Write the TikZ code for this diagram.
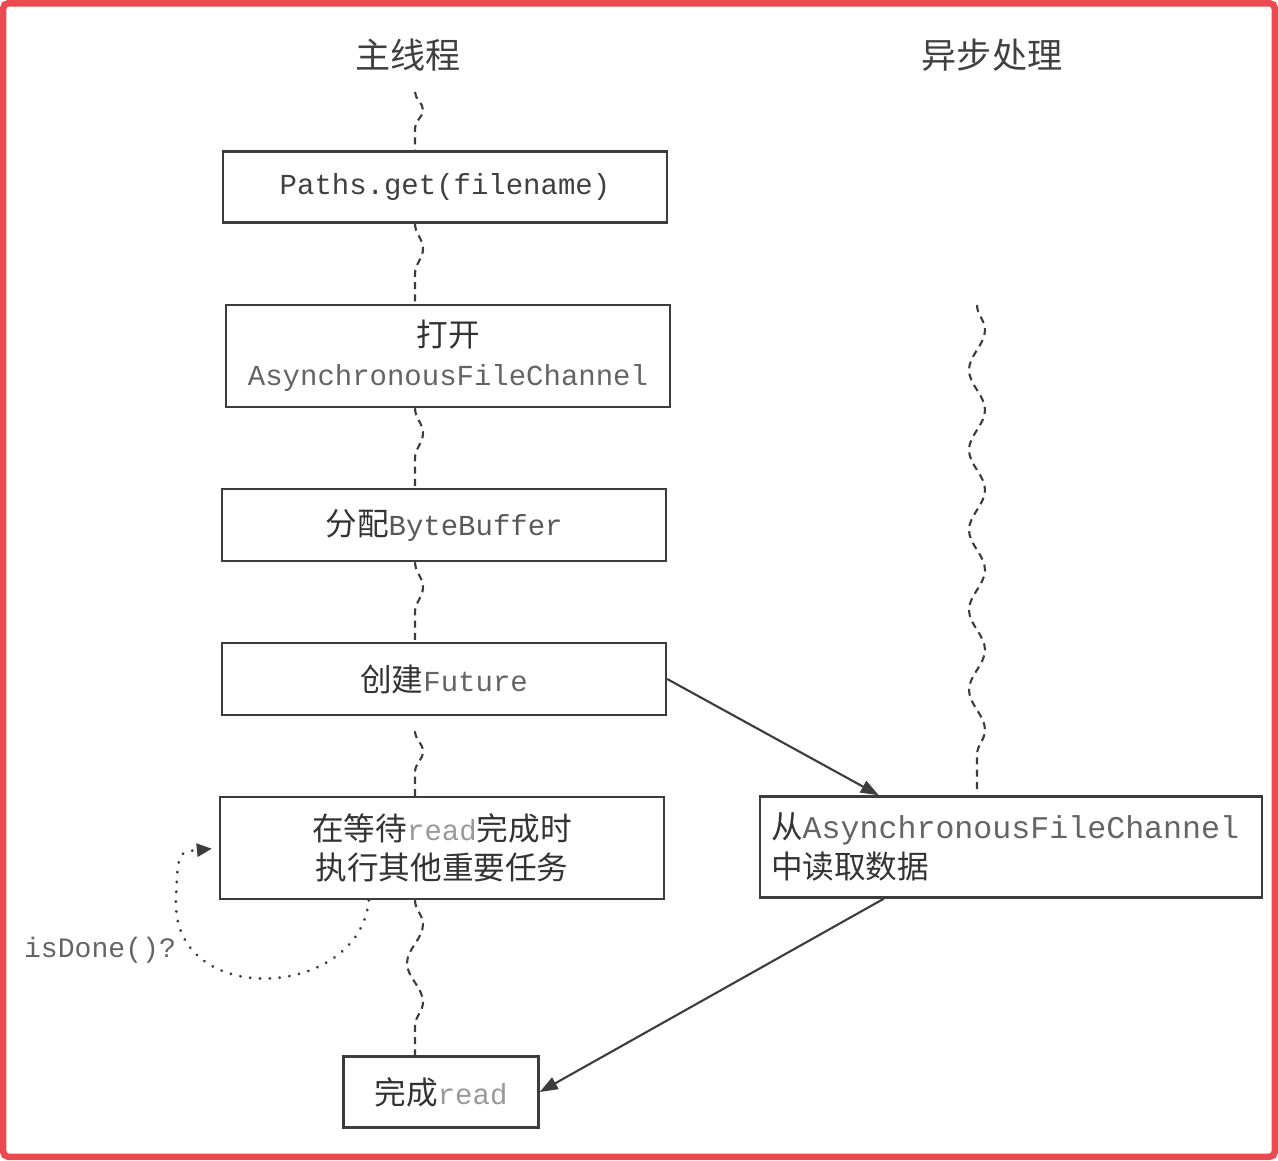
\documentclass[tikz,border=0pt]{standalone}
\usepackage{fontspec}
\setmonofont{Liberation Mono}
\newfontfamily\cjk{Noto Sans CJK SC}
\usetikzlibrary{arrows.meta, decorations.pathmorphing, calc}
\definecolor{mred}{RGB}{235,75,80}
\definecolor{mline}{RGB}{60,60,60}
\definecolor{mcode}{RGB}{100,100,100}
\newcommand\code[2][mcode]{{\color{#1}\ttfamily\fontsize{16.5}{22}\selectfont #2}}

\begin{document}
\begin{tikzpicture}[x=0.02cm, y=-0.02cm,
  box/.style={draw=mline, line width=1.4pt, minimum width=8.88cm,
              align=center, font=\cjk\fontsize{18}{22}\selectfont, text=black!80},
  head/.style={font=\cjk\fontsize{20}{24}\selectfont, text=black!75},
  wave/.style={mline, line width=1.2pt, dash pattern=on 4pt off 3pt,
               decorate, decoration={snake, amplitude=0.16cm, segment length=#1}},
  wave/.default=1.6cm,
  arr/.style={-{Triangle[length=0.36cm,width=0.26cm]}, mline, line width=1.2pt},
  poll/.style={-{Triangle[length=0.3cm,width=0.26cm]}, mline, line width=1.7pt,
               dash pattern=on 0.1pt off 5.5pt, line cap=round, shorten >=0.14cm}
]
\useasboundingbox (0,0) rectangle (1278,1160);
\draw[mred, line width=0.13cm, rounded corners=0.1cm] (3.25,3.25) rectangle (1274.75,1156.75);

% headings
\node[head] (hmain)  at (408,55) {主线程};
\node[head] (hasync) at (992,55) {异步处理};

% main thread
\node[box, minimum height=1.42cm] (paths)  at (445,187) {\code[black!75]{Paths.get(filename)}};
\node[box, minimum height=2.04cm] (open)   at (448,356) {打开\\\code{AsynchronousFileChannel}};
\node[box, minimum height=1.44cm] (alloc)  at (444,525) {分配\code[black!65]{ByteBuffer}};
\node[box, minimum height=1.44cm] (future) at (444,679) {创建\code{Future}};
\node[box, minimum height=2.04cm] (wait)   at (442,848) {在等待\code[black!40]{read}完成时\\执行其他重要任务};
\node[box, minimum width=3.9cm, minimum height=1.42cm] (done) at (441,1092) {完成\code[black!40]{read}};

% async side
\node[box, minimum width=10.04cm, minimum height=2.02cm, text width=9.6cm, align=left,
      font=\cjk\fontsize{18}{23}\selectfont] (fetch) at (1011,847)
      {从{\color{mcode}\ttfamily AsynchronousFileChannel}\\中读取数据};
\node[font=\ttfamily\fontsize{16}{20}\selectfont, text=mcode] (isdone) at (100,950) {isDone()?};

\coordinate (mtop) at (415,92);
\coordinate (atop) at (977,305);
\coordinate (abot) at (977,790);

\draw[wave=1.15cm] (mtop) -- (mtop |- paths.north);
\draw[wave] (mtop |- paths.south) -- (mtop |- open.north);
\draw[wave] (mtop |- open.south) -- (mtop |- alloc.north);
\draw[wave] (mtop |- alloc.south) -- (mtop |- future.north);
\draw[wave=1.3cm] ($(mtop |- future.south)+(0,15)$) -- (mtop |- wait.north);
\draw[wave=1.55cm] (mtop |- wait.south) -- (mtop |- done.north);
\draw[wave] (atop) -- (abot);

\draw[arr] (future.east) -- ([xshift=2.4cm]fetch.north west);
\draw[arr] ([xshift=2.5cm]fetch.south west) -- (done.east);
\draw[poll] ([xshift=3cm]wait.south west) .. controls (360,1000) and (170,1010) .. (176,898)
  .. controls (178,852) .. (wait.west);
\end{tikzpicture}
\end{document}
